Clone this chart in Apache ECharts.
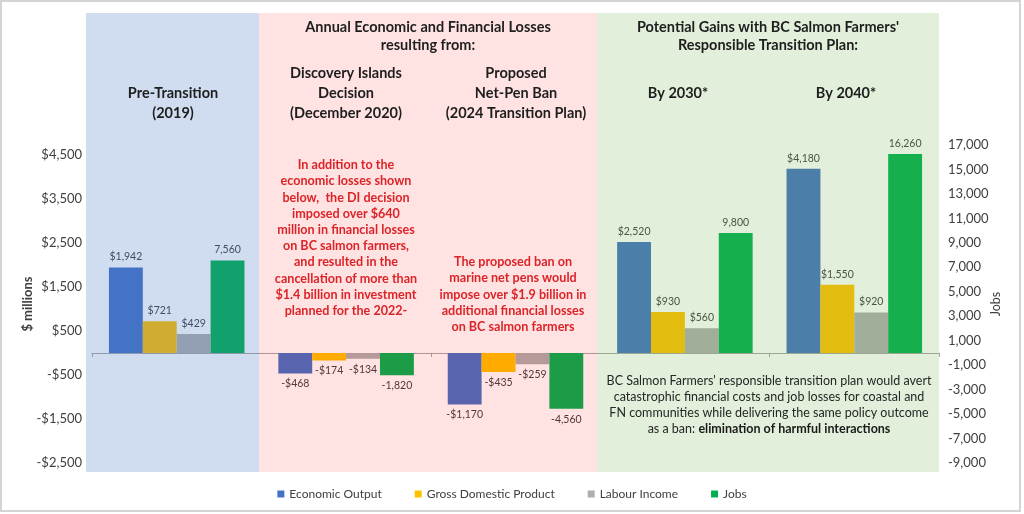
<!DOCTYPE html>
<html>
<head>
<meta charset="utf-8">
<script src="https://cdn.jsdelivr.net/npm/echarts@6/dist/echarts.min.js"></script>
<style>html,body{margin:0;padding:0;background:#fff}#c{width:1024px;height:514px}</style>
</head>
<body>
<div id="c"></div>
<script>
// ---- data ----
var categories = ['Pre-Transition (2019)', 'Discovery Islands Decision (December 2020)', 'Proposed Net-Pen Ban (2024 Transition Plan)', 'By 2030*', 'By 2040*'];
var economicOutput = [1942, -468, -1170, 2520, 4180];
var grossDomesticProduct = [721, -174, -435, 930, 1550];
var labourIncome = [429, -134, -259, 560, 920];
var jobs = [7560, -1820, -4560, 9800, 16260];
var seriesNames = ['Economic Output', 'Gross Domestic Product', 'Labour Income', 'Jobs'];
var leftTicks = { min: -2500, max: 4722, interval: 1000 };
var rightTicks = { min: -9000, max: 17000, interval: 2000 };

var FONT = 'Lato';
function money(v) { return (v < 0 ? '-$' : '$') + Math.abs(v).toLocaleString('en-US'); }
function num(v) { return v.toLocaleString('en-US'); }

function items(arr, fmt) {
  return arr.map(function (v) {
    return { value: v, label: { position: v < 0 ? 'bottom' : 'top', formatter: function () { return fmt(v); } } };
  });
}
var colors = ['#4472C4', '#FFC000', '#AEAEAE', '#00B050'];
var seriesData = [items(economicOutput, money), items(grossDomesticProduct, money), items(labourIncome, money), items(jobs, num)];

var series = seriesData.map(function (d, i) {
  return {
    name: seriesNames[i], type: 'bar', yAxisIndex: i === 3 ? 1 : 0,
    data: d, barGap: '0%', barCategoryGap: '20%',
    itemStyle: { color: colors[i] },
    label: { show: true, distance: 5, fontFamily: FONT, fontSize: 10.5, color: '#404040' }
  };
});

var chart = echarts.init(document.getElementById('c'));
function txt(x, y, text, opt) {
  opt = opt || {};
  return {
    type: 'text', z: 200, x: x, y: y,
    style: {
      text: text, textAlign: 'center', textVerticalAlign: 'top',
      fontFamily: FONT, fontSize: opt.size || 14.5, fontWeight: opt.weight || 'bold',
      fill: opt.color || '#1e1e1e', lineHeight: opt.lh || 18, rich: opt.rich
    }
  };
}
chart.setOption({
  animation: false,
  backgroundColor: '#fff',
  grid: { left: 92, right: 85, top: 145, bottom: 51 },
  legend: {
    bottom: 9, left: 'center', itemWidth: 7, itemHeight: 7, itemGap: 33, icon: 'rect',
    textStyle: { fontFamily: FONT, fontSize: 12, color: '#404040' },
    data: seriesNames
  },
  xAxis: {
    type: 'category', data: categories,
    axisLine: { onZero: true, lineStyle: { color: '#a6a6a6' } },
    axisTick: { show: true, length: 4, inside: false, lineStyle: { color: '#a6a6a6' } },
    axisLabel: { show: false }
  },
  yAxis: [{
    type: 'value', min: leftTicks.min, max: leftTicks.max, interval: leftTicks.interval,
    name: '$ millions', nameLocation: 'middle', nameGap: 58, nameRotate: 90, nameMoveOverlap: false,
    nameTextStyle: { fontFamily: FONT, fontSize: 13, fontWeight: 'bold', color: '#404040' },
    axisLine: { show: false }, axisTick: { show: false }, splitLine: { show: false },
    axisLabel: { showMaxLabel: false, fontFamily: FONT, fontSize: 13, color: '#404040', margin: 10, formatter: money }
  }, {
    type: 'value', min: rightTicks.min, max: rightTicks.max, interval: rightTicks.interval,
    name: 'Jobs', nameLocation: 'middle', nameGap: 50, nameRotate: 90, nameMoveOverlap: false,
    nameTextStyle: { fontFamily: FONT, fontSize: 12.5, fontWeight: 'normal', color: '#404040' },
    axisLine: { show: false }, axisTick: { show: false }, splitLine: { show: false },
    axisLabel: { fontFamily: FONT, fontSize: 13, color: '#404040', margin: 9, formatter: num }
  }],
  series: series,
  graphic: [
    { type: 'rect', z: 150, shape: { x: 86, y: 13, width: 173, height: 459 }, style: { fill: 'rgba(68,114,196,0.25)' } },
    { type: 'rect', z: 150, shape: { x: 259, y: 13, width: 338, height: 459 }, style: { fill: 'rgba(255,0,0,0.11)' } },
    { type: 'rect', z: 150, shape: { x: 597, y: 13, width: 342, height: 459 }, style: { fill: 'rgba(112,173,71,0.2)' } },
    { type: 'rect', z: 210, shape: { x: 1, y: 1, width: 1019, height: 510 }, style: { fill: 'none', stroke: '#d4d4d4', lineWidth: 2 } },
    txt(428, 19, 'Annual Economic and Financial Losses\nresulting from:', { lh: 17.5 }),
    txt(768, 19, "Potential Gains with BC Salmon Farmers'\nResponsible Transition Plan:", { lh: 17.5 }),
    txt(173, 83, 'Pre-Transition\n(2019)', { lh: 20 }),
    txt(346, 63, 'Discovery Islands\nDecision\n(December 2020)', { lh: 20 }),
    txt(516, 63, 'Proposed\nNet-Pen Ban\n(2024 Transition Plan)', { lh: 20 }),
    txt(678, 83, 'By 2030*', { lh: 20 }),
    txt(846, 83, 'By 2040*', { lh: 20 }),
    txt(346, 157, 'In addition to the\neconomic losses shown\nbelow,  the DI decision\nimposed over $640\nmillion in financial losses\non BC salmon farmers,\nand resulted in the\ncancellation of more than\n$1.4 billion in investment\nplanned for the 2022-', { size: 12.6, color: '#dc2428', lh: 16.2 }),
    txt(513, 254, 'The proposed ban on\nmarine net pens would\nimpose over $1.9 billion in\nadditional financial losses\non BC salmon farmers', { size: 12.6, color: '#dc2428', lh: 16.2 }),
    {
      type: 'text', z: 200, x: 769, y: 373,
      style: {
        text: "BC Salmon Farmers' responsible transition plan would avert\ncatastrophic financial costs and job losses for coastal and\nFN communities while delivering the same policy outcome\nas a ban: {b|elimination of harmful interactions}",
        textAlign: 'center', textVerticalAlign: 'top', fontFamily: FONT, fontSize: 12.5, fill: '#262626', lineHeight: 16,
        rich: { b: { fontFamily: FONT, fontSize: 12.5, fontWeight: 'bold', fill: '#1a1a1a', lineHeight: 16 } }
      }
    }
  ]
});
</script>
</body>
</html>
